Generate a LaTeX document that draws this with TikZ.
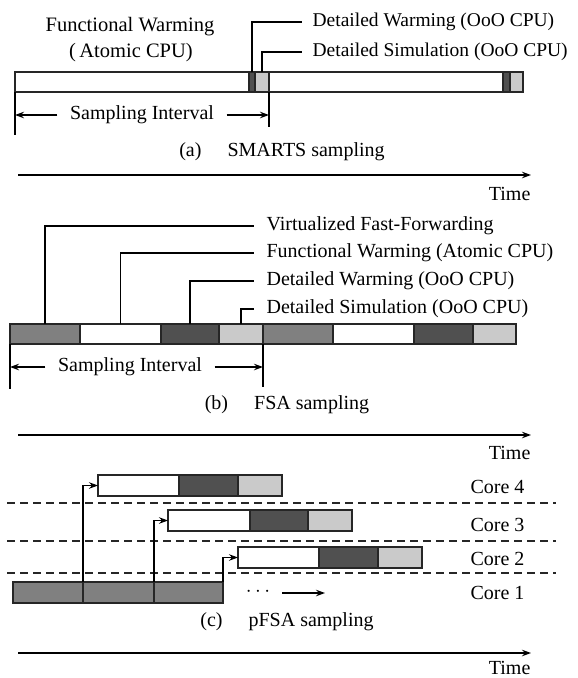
\documentclass[tikz,border=0pt]{standalone}
\usepackage{fontspec}
\setmainfont{Liberation Serif}
\usetikzlibrary{arrows.meta}
\definecolor{mgray}{RGB}{128,128,128}
\definecolor{dgray}{RGB}{80,80,80}
\definecolor{lgray}{RGB}{202,202,202}
\begin{document}
\begin{tikzpicture}[x=1pt,y=-1pt, line width=1.2pt,
  font=\fontsize{20}{24}\selectfont,
  >={Stealth[length=9pt,width=6.5pt]},
  seg/.style={draw=black!85, line width=1.3pt, inner sep=0pt, outer sep=0pt, anchor=north west, minimum height=20pt},
  wseg/.style={seg, fill=white},
  mseg/.style={seg, fill=mgray},
  dseg/.style={seg, fill=dgray},
  lseg/.style={seg, fill=lgray},
  lbl/.style={anchor=west, inner xsep=12pt, inner ysep=0pt},
  biglbl/.style={lbl, inner xsep=10pt, font=\fontsize{19.5}{24}\selectfont},
  si/.style={inner xsep=12pt, inner ysep=0pt},
  corelbl/.style={anchor=east, inner sep=0pt},
  timelbl/.style={anchor=east, inner sep=0pt},
  sep/.style={dashed, dash pattern=on 8pt off 5pt, line width=1.2pt, draw=black!85}]
\useasboundingbox (0,0) rectangle (578,678);

% ---------- (a) SMARTS ----------
\node[wseg, minimum width=234pt] (a1) at (15,72) {};
\node[dseg, minimum width=6pt] (a2) at (249,72) {};
\node[lseg, minimum width=14pt] (a3) at (255,72) {};
\node[wseg, minimum width=234pt] (a4) at (269,72) {};
\node[dseg, minimum width=7pt] (a5) at (503,72) {};
\node[lseg, minimum width=13pt] (a6) at (510,72) {};

\node[font=\fontsize{20.5}{24}\selectfont] (fw1) at (130,27) {Functional Warming};
\node[font=\fontsize{20.5}{24}\selectfont] (fw2) at (131,53) {(\,Atomic CPU)};
\node[biglbl] (ta1) at (302,22) {Detailed Warming (OoO CPU)};
\node[biglbl] (ta2) at (302,52) {Detailed Simulation (OoO CPU)};
\draw (a2.north) |- (ta1.west);
\draw (a3.north) |- (ta2.west);

\coordinate (sa1) at (15,135);
\coordinate (sa2) at (269,127);
\draw (a1.south west) -- (sa1);
\draw (a3.south east) -- (sa2);
\node[si] (sia) at (142,115) {Sampling Interval};
\coordinate (sal) at (15,115);
\coordinate (sar) at (269,115);
\draw[->] (sia.west) -- (sal);
\draw[->] (sia.east) -- (sar);

\node (capa) at (282,152) {(a)\hspace{26pt}SMARTS sampling};
\coordinate (axa0) at (18,175);
\coordinate (axa1) at (531,175);
\draw[->] (axa0) -- (axa1);
\node[timelbl] (tia) at (531,194) {Time};

% ---------- (b) FSA ----------
\node[mseg, minimum width=70pt] (b1) at (10,324) {};
\node[wseg, minimum width=81pt] (b2) at (80,324) {};
\node[dseg, minimum width=58pt] (b3) at (161,324) {};
\node[lseg, minimum width=44pt] (b4) at (219,324) {};
\node[mseg, minimum width=70pt] (b5) at (263,324) {};
\node[wseg, minimum width=81pt] (b6) at (333,324) {};
\node[dseg, minimum width=59pt] (b7) at (414,324) {};
\node[lseg, minimum width=43pt] (b8) at (473,324) {};

\node[lbl] (tb1) at (254,226) {Virtualized Fast-Forwarding};
\node[lbl] (tb2) at (254,253) {Functional Warming (Atomic CPU)};
\node[lbl] (tb3) at (254,281) {Detailed Warming (OoO CPU)};
\node[lbl] (tb4) at (254,309) {Detailed Simulation (OoO CPU)};
\draw (b1.north) |- (tb1.west);
\draw (b2.north) |- (tb2.west);
\draw (b3.north) |- (tb3.west);
\draw (b4.north) |- (tb4.west);

\coordinate (sb1) at (10,389);
\coordinate (sb2) at (263,387);
\draw (b1.south west) -- (sb1);
\draw (b4.south east) -- (sb2);
\node[si] (sib) at (130,367) {Sampling Interval};
\coordinate (sbl) at (10,367);
\coordinate (sbr) at (263,367);
\draw[->] (sib.west) -- (sbl);
\draw[->] (sib.east) -- (sbr);

\node (capb) at (287,405) {(b)\hspace{26pt}FSA sampling};
\coordinate (axb0) at (18,435);
\coordinate (axb1) at (531,435);
\draw[->] (axb0) -- (axb1);
\node[timelbl] (tib) at (531,453) {Time};

% ---------- (c) pFSA ----------
\node[wseg, minimum width=81pt, minimum height=21pt] (k4w) at (98,475) {};
\node[dseg, minimum width=59pt, minimum height=21pt] (k4d) at (179,475) {};
\node[lseg, minimum width=44pt, minimum height=21pt] (k4l) at (238,475) {};

\node[wseg, minimum width=82pt, minimum height=21pt] (k3w) at (168,510) {};
\node[dseg, minimum width=58pt, minimum height=21pt] (k3d) at (250,510) {};
\node[lseg, minimum width=44pt, minimum height=21pt] (k3l) at (308,510) {};

\node[wseg, minimum width=81pt, minimum height=21pt] (k2w) at (238,547) {};
\node[dseg, minimum width=59pt, minimum height=21pt] (k2d) at (319,547) {};
\node[lseg, minimum width=44pt, minimum height=21pt] (k2l) at (378,547) {};

\node[mseg, minimum width=70pt, minimum height=21pt] (c1) at (13,582) {};
\node[mseg, minimum width=71pt, minimum height=21pt] (c2) at (83,582) {};
\node[mseg, minimum width=69pt, minimum height=21pt] (c3) at (154,582) {};

\coordinate (d1a) at (7,503);  \coordinate (d1b) at (556,503);
\coordinate (d2a) at (7,541);  \coordinate (d2b) at (556,541);
\coordinate (d3a) at (7,573);  \coordinate (d3b) at (556,573);
\draw[sep] (d1a) -- (d1b);
\draw[sep] (d2a) -- (d2b);
\draw[sep] (d3a) -- (d3b);

\draw[->] (c1.north east) |- (k4w.west);
\draw[->] (c2.north east) |- (k3w.west);
\draw[->] (c3.north east) |- (k2w.west);

\node (dots) at (258,592) {$\cdots$};
\coordinate (ar0) at (282,593);
\coordinate (ar1) at (325,593);
\draw[->] (ar0) -- (ar1);

\node[corelbl] (core4) at (525,487) {Core 4};
\node[corelbl] (core3) at (525,525) {Core 3};
\node[corelbl] (core2) at (525,559) {Core 2};
\node[corelbl] (core1) at (525,593) {Core 1};

\node (capc) at (287,622) {(c)\hspace{26pt}pFSA sampling};
\coordinate (axc0) at (18,653);
\coordinate (axc1) at (531,653);
\draw[->] (axc0) -- (axc1);
\node[timelbl] (tic) at (531,668) {Time};
\end{tikzpicture}
\end{document}
